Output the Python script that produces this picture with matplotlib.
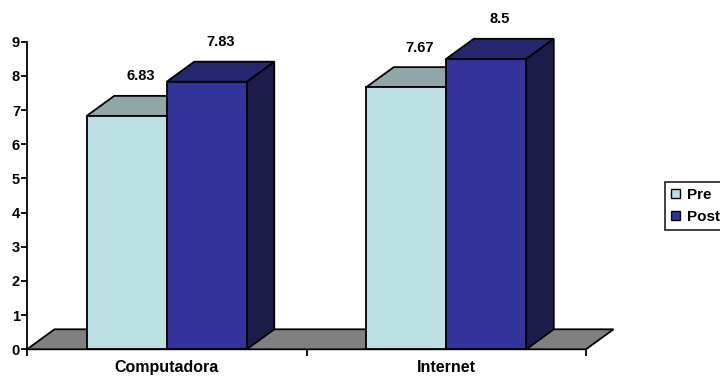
import matplotlib
matplotlib.use('Agg')
import matplotlib.pyplot as plt
from matplotlib.patches import Polygon, Patch

plt.rcParams['font.family'] = ['Liberation Sans', 'DejaVu Sans']

# Data
categories = ['Computadora', 'Internet']
series_names = ['Pre', 'Post']
pre_values = [6.83, 7.67]
post_values = [7.83, 8.5]
value_labels = [['6.83', '7.83'], ['7.67', '8.5']]

# Colours: (front, top, side)
face_colors = {
    'Pre': ('#BCDFE4', '#8FA8A7', '#6E8C8C'),
    'Post': ('#333399', '#27276F', '#1C1C4B'),
}
floor_color = '#808080'

fig = plt.figure(figsize=(7.2, 3.77), dpi=100)
ax = fig.add_axes([27 / 720, 1 - 349.3 / 377, 559 / 720, 307.6 / 377])
ax.set_xlim(-0.5, len(categories) - 0.5)
ax.set_ylim(0, 9)

# depth offset of the 3D look, in data units
dx = 27.5 / 279.5
dy = 20 / (307.6 / 9)
bar_w = 80 / 279.5


def box3d(x0, w, h, colors, z):
    front, top, side = colors
    ax.add_patch(Polygon([(x0 + w, 0), (x0 + w + dx, dy), (x0 + w + dx, h + dy), (x0 + w, h)],
                         closed=True, facecolor=side, edgecolor='black', lw=1.3,
                         zorder=z, clip_on=False))
    ax.add_patch(Polygon([(x0, h), (x0 + dx, h + dy), (x0 + w + dx, h + dy), (x0 + w, h)],
                         closed=True, facecolor=top, edgecolor='black', lw=1.3,
                         zorder=z, clip_on=False))
    ax.add_patch(Polygon([(x0, 0), (x0, h), (x0 + w, h), (x0 + w, 0)],
                         closed=True, facecolor=front, edgecolor='black', lw=1.3,
                         zorder=z, clip_on=False))


# floor
x_lo, x_hi = ax.get_xlim()
ax.add_patch(Polygon([(x_lo, 0), (x_hi, 0), (x_hi + dx, dy), (x_lo + dx, dy)],
                     closed=True, facecolor=floor_color, edgecolor='black', lw=1.3,
                     zorder=1, clip_on=False))

# bars
z = 2
for i, cat in enumerate(categories):
    vals = [pre_values[i], post_values[i]]
    for j, name in enumerate(series_names):
        x0 = i - bar_w + j * bar_w
        box3d(x0, bar_w, vals[j], face_colors[name], z)
        ax.annotate(value_labels[i][j], (x0 + bar_w / 2 + dx / 2, vals[j] + dy),
                    xytext=(0, 14), textcoords='offset points',
                    ha='center', va='center', fontsize=10.5, fontweight='bold',
                    annotation_clip=False, zorder=10)
        z += 1

# axes styling
for s in ['top', 'right']:
    ax.spines[s].set_visible(False)
ax.spines['bottom'].set_visible(False)
ax.spines['left'].set_linewidth(1.3)
ax.spines['left'].set_zorder(20)

ax.set_yticks(range(0, 10))
ax.tick_params(axis='y', direction='out', length=4, width=1.3, pad=1,
               labelsize=10.5)
for lbl in ax.get_yticklabels():
    lbl.set_fontweight('bold')

ax.set_xticks(range(len(categories)))
ax.set_xticklabels(categories, fontsize=11.5, fontweight='bold')
ax.tick_params(axis='x', which='major', length=0, pad=8)
ax.set_xticks([k - 0.5 for k in range(len(categories) + 1)], minor=True)
ax.tick_params(axis='x', which='minor', direction='out', length=5, width=1.3)

handles = [Patch(facecolor=face_colors[n][0], edgecolor='black', lw=1) for n in series_names]
leg = fig.legend(handles, series_names, loc='upper left',
                 bbox_to_anchor=(665 / 720, 1 - 182 / 377),
                 bbox_transform=fig.transFigure, frameon=True, fancybox=False,
                 handlelength=0.55, handleheight=0.55, handletextpad=0.5,
                 borderpad=0.4, labelspacing=0.5, borderaxespad=0,
                 prop={'weight': 'bold', 'size': 11})
leg.get_frame().set_edgecolor('black')
leg.get_frame().set_linewidth(1.3)

fig.savefig('out.png', dpi=100)
